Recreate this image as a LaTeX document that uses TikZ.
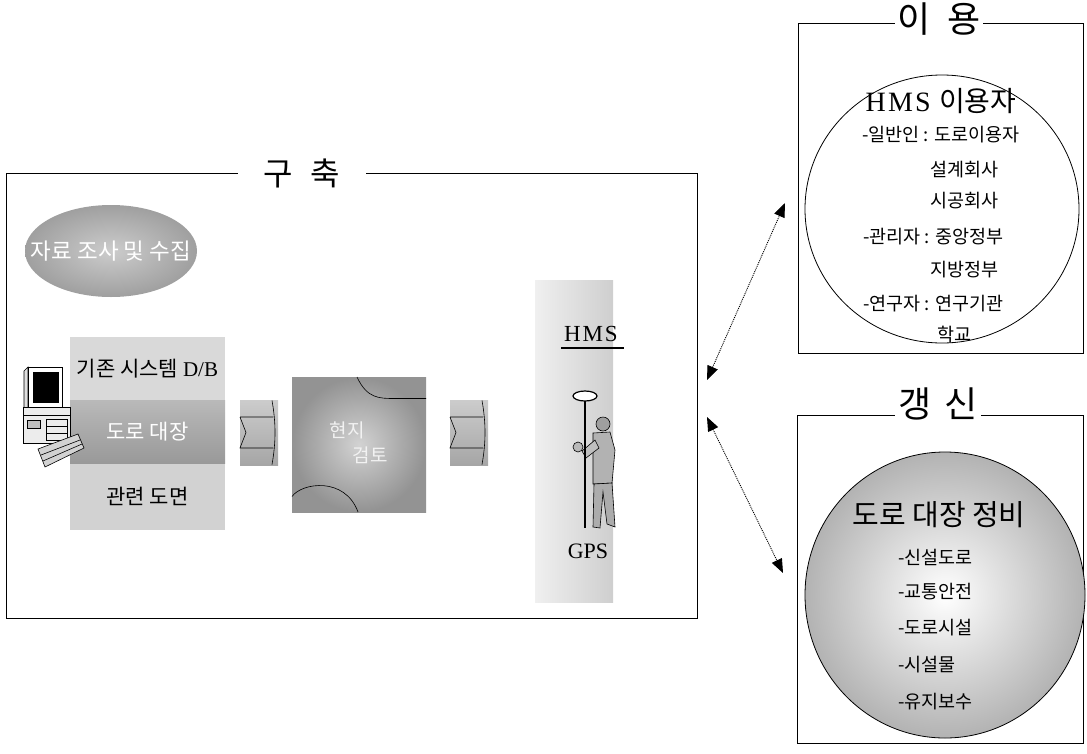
\documentclass[tikz,border=0pt]{standalone}
\usepackage{fontspec}
\setmainfont{Liberation Serif}
\newfontfamily\kr{Noto Sans CJK KR}
\newfontfamily\hmsfont[LetterSpace=8]{Liberation Serif}
\usetikzlibrary{positioning, shapes.geometric, arrows.meta, calc}

\tikzset{
        frameBox/.style={rectangle, draw, line width=0.9pt},
        frameTitle/.style={fill=white, inner ysep=2pt, font=\kr\fontsize{32}{36}\selectfont},
        barBox/.style={rectangle, minimum width=155pt, inner sep=0pt, font=\kr\fontsize{21}{24}\selectfont},
        scrollBox/.style={rectangle, minimum width=38pt, minimum height=65pt, top color=gray!40, bottom color=gray!70},
        roundText/.style={anchor=west, inner sep=0pt, font=\kr\fontsize{18.5}{22}\selectfont},
        linkArrow/.style={line width=0.9pt, dash pattern=on 1pt off 1pt, {Triangle[length=14pt, width=11pt]}-{Triangle[length=14pt, width=11pt]}}
}

\begin{document}
\begin{tikzpicture}[x=1pt, y=-1pt]
        \useasboundingbox (0, 0) rectangle (1087, 753);

        % frames
        \node[frameBox, minimum width=691pt, minimum height=445pt] (buildBox) at (351.5, 395.5) {};
        \node[frameTitle, inner xsep=26pt] (buildTitle) at (302, 173) {구\hspace{0.55em}축};
        \node[frameBox, minimum width=285pt, minimum height=330pt] (useBox) at (940.5, 188) {};
        \node[frameTitle, inner xsep=3pt, font=\kr\fontsize{36}{40}\selectfont] (useTitle) at (939, 19) {이\hspace{0.45em}용};
        \node[frameBox, minimum width=286pt, minimum height=328pt] (updateBox) at (940, 579) {};
        \node[frameTitle, inner xsep=4pt, font=\kr\fontsize{36}{40}\selectfont] (updateTitle) at (938, 404) {갱\hspace{0.35em}신};

        % build side
        \node[ellipse, minimum width=172pt, minimum height=92pt, inner color=gray!40, outer color=gray!75] (dataEllipse) at (111, 251) {};
        \node[text=white, font=\kr\fontsize{22.5}{25}\selectfont, inner sep=0pt] (dataText) at (dataEllipse.center) {자료 조사 및 수집};

        \node[barBox, minimum height=63pt, fill=gray!30] (dbBar) at (147.5, 368.5) {기존 시스템 {\rmfamily D/B}};
        \node[barBox, minimum height=63pt, top color=gray!55, bottom color=gray!80, text=white] (ledgerBar) [below = 0pt of dbBar] {도로 대장};
        \node[barBox, minimum height=66pt, fill=gray!35] (drawingBar) [below = 0pt of ledgerBar] {관련 도면};

        \begin{scope}[line width=0.6pt]
                \draw[fill=gray!25] (24, 371) -- (28, 367) -- (28, 409) -- (24, 413) -- cycle;
                \draw[fill=white] (28, 367) rectangle (62, 407);
                \draw[fill=black] (33, 372) rectangle (58, 402);
                \draw[fill=gray!15] (23, 407) rectangle (70, 443);
                \draw (23, 415) -- (70, 415) (46, 419) rectangle (67, 440) (46, 426) -- (67, 426) (46, 433) -- (67, 433);
                \draw[fill=gray!50] (27, 420) rectangle (40, 428);
                \draw[fill=gray!35] (38, 449) -- (78, 434) -- (84, 448) -- (45, 467) -- cycle;
                \draw (41, 455) -- (80, 440) (43, 461) -- (82, 444);
        \end{scope}

        \node[scrollBox] (leftScroll) at (259, 432.5) {};
        \node[rectangle, minimum width=134pt, minimum height=135pt, inner color=gray!35, outer color=gray!85] (fieldSquare) at (359, 444.5) {};
        \node[scrollBox] (rightScroll) at (469, 432.5) {};

        \foreach \s in {leftScroll, rightScroll}
                \draw[line width=0.6pt] ($(\s.center)+(-19, -15.5)$) -- ($(\s.center)+(14, -15.5)$)
                        ($(\s.center)+(-19, -15.5)$) -- ($(\s.center)+(-13, 0)$) -- ($(\s.center)+(-19, 15.5)$) -- ($(\s.center)+(14, 15.5)$)
                        ($(\s.center)+(13, -32)$) .. controls ($(\s.center)+(17, -10)$) and ($(\s.center)+(17, 10)$) .. ($(\s.center)+(13, 32)$);

        \draw[line width=0.6pt] ($(fieldSquare.center)+(-2, -67.5)$) .. controls ($(fieldSquare.center)+(8, -46)$) and ($(fieldSquare.center)+(20, -46)$) .. ($(fieldSquare.center)+(36, -46)$) -- ($(fieldSquare.center)+(67, -46)$);
        \draw[line width=0.6pt] ($(fieldSquare.center)+(-67, 52)$) .. controls ($(fieldSquare.center)+(-57, 38)$) and ($(fieldSquare.center)+(-14, 32)$) .. ($(fieldSquare.center)+(-1, 67.5)$);
        \node[text=gray!10, font=\kr\fontsize{19}{22}\selectfont] (fieldTextA) at (347, 430) {현지};
        \node[text=gray!10, font=\kr\fontsize{19}{22}\selectfont] (fieldTextB) at (370, 455) {검토};

        \node[rectangle, minimum width=78pt, minimum height=322pt, left color=gray!12, right color=gray!38] (hmsPanel) at (574, 441) {};
        \node[font=\hmsfont\fontsize{23}{26}\selectfont, inner xsep=2pt, inner ysep=6pt] (hmsLabel) at (591, 334) {HMS};
        \draw[line width=1.2pt] ([xshift=-1pt]hmsLabel.south west) -- ([xshift=4pt]hmsLabel.south east);

        % surveyor with gps pole
        \begin{scope}[line width=0.6pt]
                \draw[fill=gray!60] (593, 433) -- (610, 432) -- (615, 450) -- (612, 483) -- (593, 484) -- cycle;
                \draw[fill=gray!75] (603, 424) circle (7);
                \draw[fill=gray!65] (594, 484) -- (593, 527) -- (600, 528) -- (603, 492) -- (607, 524) -- (615, 527) -- (612, 483) -- cycle;
                \draw[fill=gray!50] (595, 440) -- (582, 451) -- (586, 458) -- (599, 448) -- cycle;
                \draw[fill=gray!55] (578, 447) circle (5);
                \draw[line width=2pt] (585, 399) -- (585, 528);
                \draw[line width=1.2pt, fill=white] (585, 396) ellipse (12 and 5);
        \end{scope}

        \node[font=\rmfamily\fontsize{22}{24}\selectfont] (gpsLabel) at (588, 551) {GPS};

        % use side
        \node[ellipse, draw, line width=0.8pt, minimum width=274pt, minimum height=268pt] (userCircle) at (942, 209) {};
        \node[font=\fontsize{28}{30}\selectfont] (userTitle) at (941, 101) {{\hmsfont HMS}\hspace{0.3em}{\kr 이용자}};
        \node[roundText] (userA) at (862, 135) {-일반인 : 도로이용자};
        \node[roundText] (userB) at (930, 170) {설계회사};
        \node[roundText] (userC) at (930, 201) {시공회사};
        \node[roundText] (userD) at (863, 237) {-관리자 : 중앙정부};
        \node[roundText] (userE) at (930, 270) {지방정부};
        \node[roundText] (userF) at (863, 304) {-연구자 : 연구기관};
        \node[roundText] (userG) at (937, 335) {학교};

        % update side
        \node[ellipse, draw, line width=0.8pt, minimum width=280pt, minimum height=286pt, inner color=white, outer color=gray!60] (updateCircle) at (945, 595) {};
        \node[font=\kr\fontsize{29}{32}\selectfont] (updateHead) at (939, 515) {도로 대장 정비};
        \node[roundText] (itemA) at (898, 557) {-신설도로};
        \node[roundText] (itemB) at (898, 592) {-교통안전};
        \node[roundText] (itemC) at (898, 628) {-도로시설};
        \node[roundText] (itemD) at (898, 665) {-시설물};
        \node[roundText] (itemE) at (898, 702) {-유지보수};

        \coordinate (buildTopEnd) at (707, 380);
        \coordinate (useEnd) at (785, 203);
        \coordinate (buildBotEnd) at (707, 417);
        \coordinate (updateEnd) at (783, 573);

        \draw (buildTopEnd) edge[linkArrow] (useEnd);
        \draw (buildBotEnd) edge[linkArrow] (updateEnd);
\end{tikzpicture}
\end{document}
